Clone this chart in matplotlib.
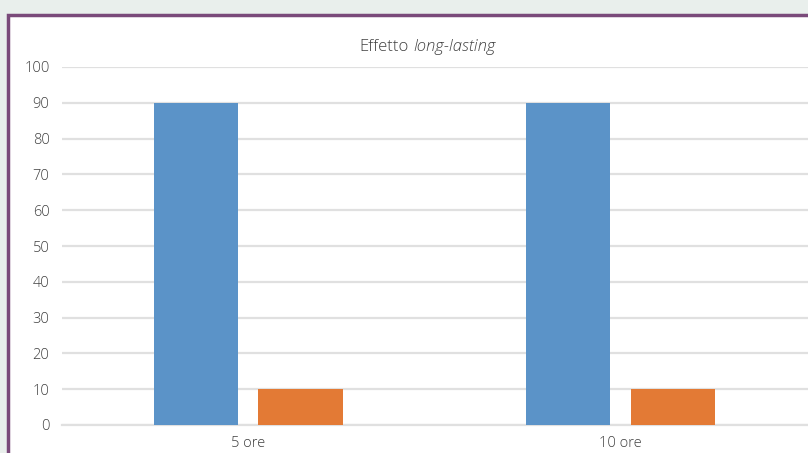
import numpy as np
import matplotlib.pyplot as plt
from matplotlib.patches import Rectangle

categories = ["5 ore", "10 ore"]
serie_blu = [90, 90]
serie_arancio = [10, 10]
y_ticks = list(range(0, 101, 10))

BLUE = "#5b93c8"
ORANGE = "#e37a35"
GRID = "#e0e0e0"
TEXT = "#404040"

plt.rcParams["font.family"] = ["Open Sans", "DejaVu Sans"]
plt.rcParams["font.weight"] = "light"

W, H = 808, 453
fig = plt.figure(figsize=(W / 100, H / 100), dpi=100)
fig.patch.set_facecolor("#e9efec")

# white panel with purple frame
fig.patches.append(Rectangle((8 / W, -0.1), 1.2, (H - 15) / H + 0.1,
                             transform=fig.transFigure, facecolor="white",
                             edgecolor="#7a4a7a", linewidth=2.5, zorder=-5))

ax = fig.add_axes([62 / W, (H - 425) / H, (W - 62) / W, (425 - 67) / H])
ax.set_facecolor("none")
ax.set_zorder(2)

x = np.arange(len(categories))
width = 0.226
off = 0.141
ax.bar(x - off, serie_blu, width, color=BLUE, zorder=3)
ax.bar(x + off, serie_arancio, width, color=ORANGE, zorder=3)

ax.set_xlim(-0.5, 1.505)
ax.set_ylim(0, 100)
ax.set_yticks(y_ticks)
ax.set_xticks(x)
ax.set_xticklabels(categories)
ax.tick_params(axis="both", length=0, labelsize=10.5, colors=TEXT)
ax.tick_params(axis="y", pad=9)
ax.tick_params(axis="x", pad=8)
ax.grid(axis="y", color=GRID, linewidth=1.6, zorder=0)
for s in ["top", "right", "left"]:
    ax.spines[s].set_visible(False)
ax.spines["bottom"].set_color(GRID)
ax.spines["bottom"].set_linewidth(1.6)

# title in two pieces: plain and italic
ty = (H - 47) / H
fig.text(409 / W, ty, "Effetto", ha="right", va="center", fontsize=12,
         color=TEXT, zorder=5)
fig.text(413 / W, ty, "long-lasting", ha="left", va="center", fontsize=12,
         color=TEXT, style="italic", zorder=5)

fig.savefig("out.png", dpi=100)
